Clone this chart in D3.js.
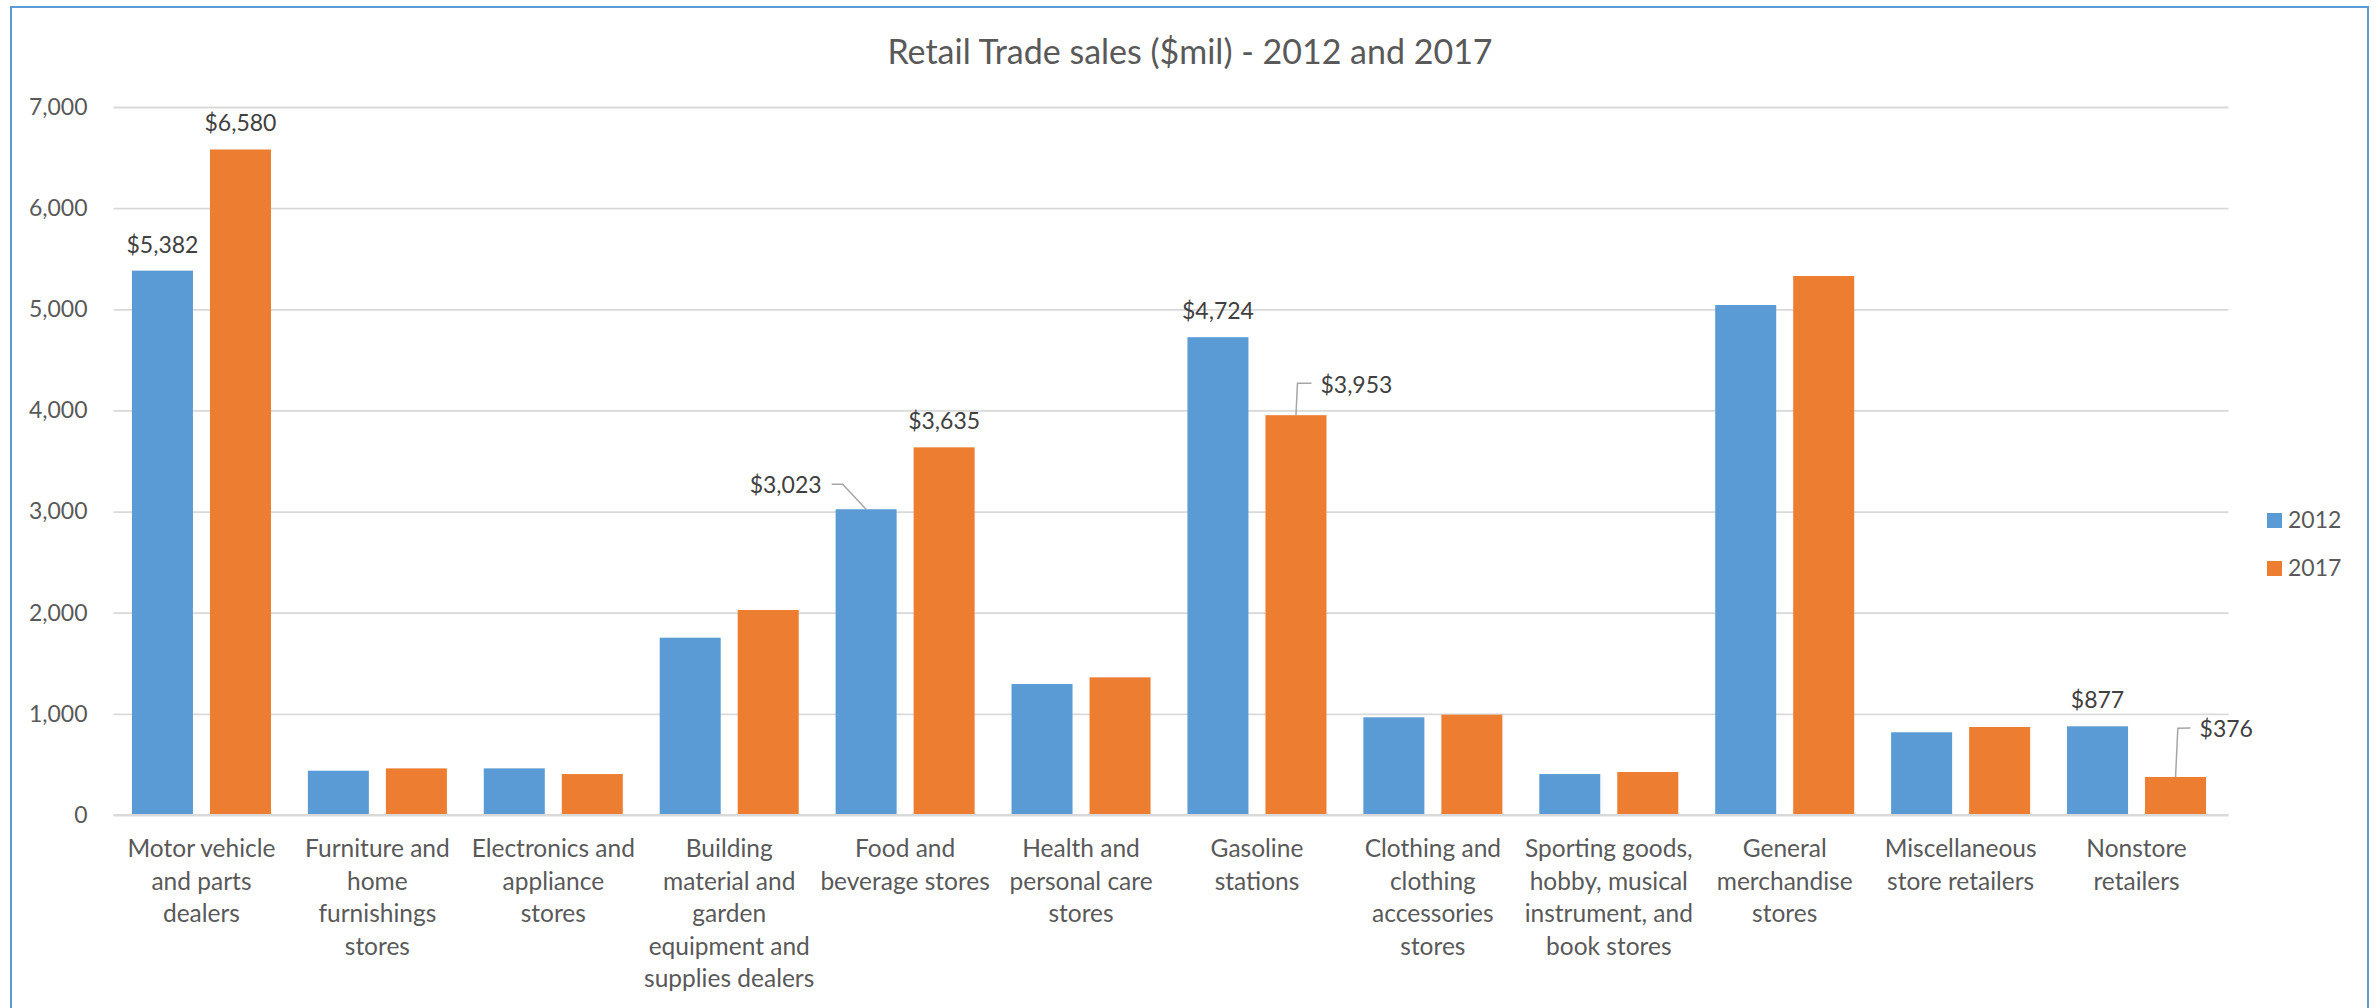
<!DOCTYPE html>
<html>
<head>
<meta charset="utf-8">
<script src="https://cdn.jsdelivr.net/npm/d3@7"></script>
<style>
  html, body { margin: 0; padding: 0; background: #ffffff; }
  svg { display: block; }
  text { font-family: Lato, "Open Sans", sans-serif; }
</style>
</head>
<body>
<svg id="chart" width="2380" height="1008"></svg>
<script>
// ---- data ----
const categories = [
  "Motor vehicle and parts dealers",
  "Furniture and home furnishings stores",
  "Electronics and appliance stores",
  "Building material and garden equipment and supplies dealers",
  "Food and beverage stores",
  "Health and personal care stores",
  "Gasoline stations",
  "Clothing and clothing accessories stores",
  "Sporting goods, hobby, musical instrument, and book stores",
  "General merchandise stores",
  "Miscellaneous store retailers",
  "Nonstore retailers"
];
const categoryLines = [
  ["Motor vehicle", "and parts", "dealers"],
  ["Furniture and", "home", "furnishings", "stores"],
  ["Electronics and", "appliance", "stores"],
  ["Building", "material and", "garden", "equipment and", "supplies dealers"],
  ["Food and", "beverage stores"],
  ["Health and", "personal care", "stores"],
  ["Gasoline", "stations"],
  ["Clothing and", "clothing", "accessories", "stores"],
  ["Sporting goods,", "hobby, musical", "instrument, and", "book stores"],
  ["General", "merchandise", "stores"],
  ["Miscellaneous", "store retailers"],
  ["Nonstore", "retailers"]
];
const seriesNames = ["2012", "2017"];
const sales2012 = [5382, 438, 461, 1753, 3023, 1295, 4724, 966, 405, 5042, 818, 877];
const sales2017 = [6580, 461, 405, 2027, 3635, 1361, 3953, 992, 425, 5329, 870, 376];
const yTicks = [0, 1000, 2000, 3000, 4000, 5000, 6000, 7000];
const titleText = "Retail Trade sales ($mil) - 2012 and 2017";
// labelled bars: [category index, series index]
const labelled = [[0,0],[0,1],[4,0],[4,1],[6,0],[6,1],[11,0],[11,1]];

// ---- styles / layout ----
const colors = ["#5B9BD5", "#ED7D31"];
const textColor = "#595959";
const labelColor = "#404040";
const gridColor = "#D9D9D9";
const fontSize = 23;
const catFontSize = 24.5;

const svg = d3.select("#chart");

// outer border
svg.append("rect")
  .attr("x", 11).attr("y", 7).attr("width", 2357).attr("height", 1100)
  .attr("fill", "none").attr("stroke", "#5B9BD5").attr("stroke-width", 2);

const plotLeft = 113.5, plotRight = 2224.5;
const x0 = d3.scaleBand().domain(d3.range(categories.length)).range([plotLeft, plotRight]).padding(0);
const x1 = d3.scaleBand().domain(seriesNames).range([0, x0.bandwidth()]).paddingInner(0.218).paddingOuter(0.2365);
const y = d3.scaleLinear().domain([0, 7000]).range([815, 107.0]);

// title
svg.append("text")
  .attr("x", 1190).attr("y", 64)
  .attr("text-anchor", "middle")
  .attr("fill", textColor)
  .style("font-size", "34px")
  .text(titleText);

// gridlines
const yAxis = d3.axisLeft(y).tickValues(yTicks).tickSize(-(plotRight + 4 - plotLeft)).tickPadding(26)
  .tickFormat(d3.format(","));
const gy = svg.append("g").attr("transform", `translate(${plotLeft},0)`).call(yAxis);
gy.select(".domain").remove();
gy.selectAll(".tick line").attr("stroke", gridColor).attr("stroke-width", 1.8);
gy.selectAll(".tick text")
  .attr("fill", textColor)
  .style("font-size", fontSize + "px")
  .style("font-family", "Lato, sans-serif");

// bars
const seriesData = [sales2012, sales2017];
const groups = svg.append("g").selectAll("g")
  .data(categories.map((c, i) => i))
  .join("g")
  .attr("transform", i => `translate(${x0(i)},0)`);

groups.selectAll("rect")
  .data(i => seriesNames.map((s, k) => ({ s, k, v: seriesData[k][i] })))
  .join("rect")
  .attr("x", d => x1(d.s))
  .attr("width", x1.bandwidth())
  .attr("y", d => y(d.v))
  .attr("height", d => y(0) - y(d.v))
  .attr("fill", d => colors[d.k]);

// category labels
const xAxis = d3.axisBottom(x0).tickSize(0).tickFormat(() => "");
const gx = svg.append("g").attr("transform", `translate(0,${y(0)})`).call(xAxis);
gx.select(".domain").attr("stroke", gridColor).attr("stroke-width", 1.8)
  .attr("d", `M${plotLeft},0H${plotRight + 4}`);
gx.selectAll(".tick").each(function(i) {
  const t = d3.select(this).select("text")
    .attr("y", 0).attr("dy", null)
    .attr("fill", textColor)
    .style("font-size", catFontSize + "px")
    .style("font-family", "Lato, sans-serif");
  categoryLines[i].forEach((line, j) => {
    t.append("tspan").attr("x", 0).attr("y", 42 + j * 32.6).text(line);
  });
});

// data labels
const fmt = v => "$" + d3.format(",")(v);
const special = {
  "4-0": { anchor: "end", dx: -44.5, dy: -16, leader: [[-23.5, -25], [-34.5, -25]] },
  "6-1": { anchor: "start", dx: 24.5, dy: -22, leader: [[1.5, -32], [15.5, -32]] },
  "11-1": { anchor: "start", dx: 24, dy: -40, leader: [[2.3, -48.7], [15, -49]] }
};
const lg = svg.append("g");
labelled.forEach(([ci, si]) => {
  const v = seriesData[si][ci];
  const bx = x0(ci) + x1(seriesNames[si]) + x1.bandwidth() / 2;
  const by = y(v);
  const sp = special[ci + "-" + si];
  if (sp) {
    const pts = [[bx, by]].concat(sp.leader.map(p => [bx + p[0], by + p[1]]));
    lg.append("path")
      .attr("d", d3.line()(pts))
      .attr("fill", "none").attr("stroke", "#A6A6A6").attr("stroke-width", 1.5);
    lg.append("text")
      .attr("x", bx + sp.dx).attr("y", by + sp.dy)
      .attr("text-anchor", sp.anchor)
      .attr("fill", labelColor)
      .style("font-size", fontSize + "px")
      .text(fmt(v));
  } else {
    lg.append("text")
      .attr("x", bx).attr("y", by - 18)
      .attr("text-anchor", "middle")
      .attr("fill", labelColor)
      .style("font-size", fontSize + "px")
      .text(fmt(v));
  }
});

// legend
const legend = svg.append("g").selectAll("g")
  .data(seriesNames)
  .join("g")
  .attr("transform", (d, k) => `translate(2267,${513 + k * 48})`);
legend.append("rect").attr("width", 15).attr("height", 15).attr("fill", (d, k) => colors[k]);
legend.append("text")
  .attr("x", 21).attr("y", 15)
  .attr("fill", textColor)
  .style("font-size", fontSize + "px")
  .text(d => d);
</script>
</body>
</html>
